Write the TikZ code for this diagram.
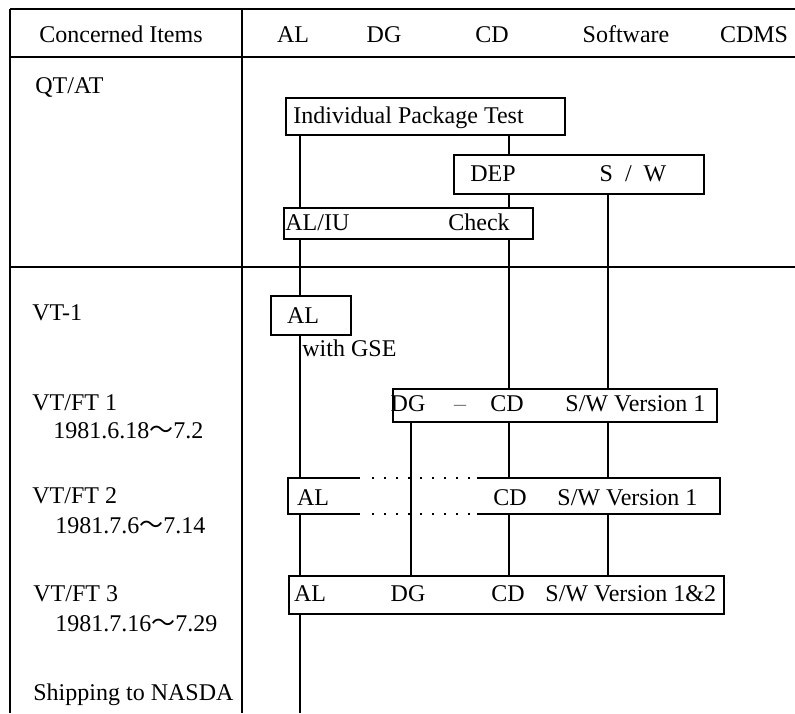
\documentclass[tikz,border=0pt]{standalone}
\usepackage{fontspec}
\setmainfont{Liberation Serif}
\newfontfamily\cjk{Noto Sans CJK JP}
\usetikzlibrary{calc,positioning}
\newcommand{\til}{{\cjk ～}}

\begin{document}
\begin{tikzpicture}[
    x=0.5pt, y=-0.5pt,
    rule/.style={line width=1pt},
    box/.style={
        rectangle,
        draw=black,
        line width=1pt,
        inner sep=0pt,
        anchor=north west
    },
    item/.style={
        anchor=west,
        inner sep=0pt,
        text height=9pt,
        text depth=1pt,
        font=\fontsize{12}{14}\selectfont
    },
    head/.style={item, anchor=center},
    conn/.style={line width=0.8pt},
    gap/.style={line width=1pt, dash pattern=on 1pt off 5pt}
]
\useasboundingbox (0,0) rectangle (795,713);

% Table frame
\draw[rule] (10,9) -- (795,9);
\draw[rule] (10,57) -- (795,57);
\draw[rule] (10,267) -- (795,267);
\draw[rule] (10,9) -- (10,713);
\draw[rule] (242,9) -- (242,713);

% Column headers
\node[head] (hItems) at (121,34) {Concerned Items};
\node[head] (hAL)    at (293,34) {AL};
\node[head] (hDG)    at (384,34) {DG};
\node[head] (hCD)    at (492,34) {CD};
\node[head] (hSW)    at (626,34) {Software};
\node[head] (hCDMS)  at (754,34) {CDMS};

% Row titles
\node[item] (rQT)    at (35,85)  {QT/AT};
\node[item] (rVT)    at (32,312) {VT-1};
\node[item] (rFT1)   at (32,402) {VT/FT 1};
\node[item] (dFT1)   at (53,430) {1981.6.18\til7.2};
\node[item] (rFT2)   at (32,495) {VT/FT 2};
\node[item] (dFT2)   at (55,525) {1981.7.6\til7.14};
\node[item] (rFT3)   at (33,593) {VT/FT 3};
\node[item] (dFT3)   at (55,623) {1981.7.16\til7.29};
\node[item] (rShip)  at (33,692) {Shipping to NASDA};

% Test boxes
\node[box, minimum width=139.5pt, minimum height=18.5pt] (ipt)  at (285,97)  {};
\node[box, minimum width=125pt,   minimum height=19.5pt] (dep)  at (453,154) {};
\node[box, minimum width=124.5pt, minimum height=15.5pt] (aliu) at (283,207) {};
\node[box, minimum width=40pt,    minimum height=19.5pt] (vtal) at (270,295) {};
\node[box, minimum width=162pt,   minimum height=16.5pt] (dgcd) at (392,388) {};
\node[box, draw=none, minimum width=215pt, minimum height=17pt] (ft2) at (288,478) {};
\node[box, minimum width=217.5pt, minimum height=19pt]   (ft3)  at (288,575) {};

% Box texts
\node[item] (tIpt) at (293,115) {Individual Package Test};
\node[head] (tDep) at (493,173) {DEP};
\node[head] (tDsw) at (633,173) {S~~/~~W};
\node[item] (tAliu) at (285,222) {AL/IU};
\node[head] (tChk) at (479,222) {Check};
\node[head] (tVtal) at (303,315) {AL};
\node[item] (tGse) at (302,348) {with GSE};
\node[head] (tDg1) at (408,403) {DG};
\node[head, text=gray] (tDash) at (460,403) {\textendash};
\node[head] (tCd1) at (507,403) {CD};
\node[item] (tSw1) at (565,403) {S/W Version 1};
\node[head] (tAl2) at (313,497) {AL};
\node[head] (tCd2) at (510,497) {CD};
\node[item] (tSw2) at (557,497) {S/W Version 1};
\node[head] (tAl3) at (310,593) {AL};
\node[head] (tDg3) at (408,593) {DG};
\node[head] (tCd3) at (508,593) {CD};
\node[item] (tSw3) at (545,593) {S/W Version 1\&2};

% VT/FT 2 outline, broken by dots
\draw[rule] ($(ft2.north west)+(72,0)$) -- (ft2.north west) -- (ft2.south west) -- ++(72,0);
\draw[gap] ($(ft2.north west)+(84,0)$) -- ++(98,0);
\draw[gap] ($(ft2.south west)+(84,0)$) -- ++(98,0);
\draw[rule] ($(ft2.north west)+(189,0)$) -- (ft2.north east) -- (ft2.south east) -- ($(ft2.south west)+(189,0)$);

% Item columns
\coordinate (colAL) at (300,0);
\coordinate (colDG) at (411,0);
\coordinate (colCD) at (509,0);
\coordinate (colSW) at (608,0);
\coordinate (shipEnd) at (300,713);

% AL line
\draw[conn] (ipt.south -| colAL) -- (aliu.north -| colAL);
\draw[conn] (aliu.south -| colAL) -- (vtal.north -| colAL);
\draw[conn] (vtal.south -| colAL) -- (ft2.north -| colAL);
\draw[conn] (ft2.south -| colAL) -- (ft3.north -| colAL);
\draw[conn] (ft3.south -| colAL) -- (shipEnd);

% DG line
\draw[conn] (dgcd.south -| colDG) -- (ft3.north -| colDG);

% CD line
\draw[conn] (ipt.south -| colCD) -- (dep.north -| colCD);
\draw[conn] (dep.south -| colCD) -- (aliu.north -| colCD);
\draw[conn] (aliu.south -| colCD) -- (dgcd.north -| colCD);
\draw[conn] (dgcd.south -| colCD) -- (ft2.north -| colCD);
\draw[conn] (ft2.south -| colCD) -- (ft3.north -| colCD);

% Software line
\draw[conn] (dep.south -| colSW) -- (dgcd.north -| colSW);
\draw[conn] (dgcd.south -| colSW) -- (ft2.north -| colSW);
\draw[conn] (ft2.south -| colSW) -- (ft3.north -| colSW);

\end{tikzpicture}
\end{document}
